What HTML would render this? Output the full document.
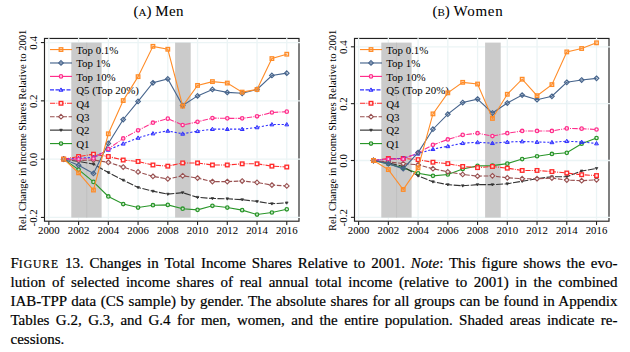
<!DOCTYPE html>
<html><head><meta charset="utf-8"><style>
html,body{margin:0;padding:0;background:#fff;}
body{width:630px;height:352px;position:relative;overflow:hidden;font-family:"Liberation Serif",serif;color:#000;}
.cl{-webkit-text-stroke:0.2px #000;}
.t{-webkit-text-stroke:0.05px #000;}
.t{position:absolute;top:0;font-size:15px;line-height:17px;white-space:nowrap;}
.t .s{font-size:11px;}
.cl{position:absolute;left:10.5px;width:607px;font-size:15px;line-height:17px;height:17px;white-space:nowrap;text-align:justify;text-align-last:justify;}
.cl.last{text-align:left;text-align-last:left;}
.sc{font-size:11.6px;letter-spacing:0.95px;}
</style></head><body>
<svg width="630" height="245" viewBox="0 0 630 245" style="position:absolute;left:0;top:0" font-family="Liberation Serif, serif" fill="#000" stroke-linejoin="miter">
<rect x="44.5" y="38.45" width="254.50" height="182.75" fill="none" stroke="#222222" stroke-width="1.15"/>
<line x1="48.85" y1="37.6" x2="48.85" y2="219.6" stroke="#ebf4f5" stroke-width="1.3"/>
<line x1="78.59" y1="37.6" x2="78.59" y2="219.6" stroke="#ebf4f5" stroke-width="1.3"/>
<line x1="108.33" y1="37.6" x2="108.33" y2="219.6" stroke="#ebf4f5" stroke-width="1.3"/>
<line x1="138.07" y1="37.6" x2="138.07" y2="219.6" stroke="#ebf4f5" stroke-width="1.3"/>
<line x1="167.81" y1="37.6" x2="167.81" y2="219.6" stroke="#ebf4f5" stroke-width="1.3"/>
<line x1="197.55" y1="37.6" x2="197.55" y2="219.6" stroke="#ebf4f5" stroke-width="1.3"/>
<line x1="227.29" y1="37.6" x2="227.29" y2="219.6" stroke="#ebf4f5" stroke-width="1.3"/>
<line x1="257.03" y1="37.6" x2="257.03" y2="219.6" stroke="#ebf4f5" stroke-width="1.3"/>
<line x1="286.77" y1="37.6" x2="286.77" y2="219.6" stroke="#ebf4f5" stroke-width="1.3"/>
<line x1="45.20" y1="217.45" x2="300.00" y2="217.45" stroke="#ebf4f5" stroke-width="1.3"/>
<line x1="45.20" y1="159.15" x2="300.00" y2="159.15" stroke="#ebf4f5" stroke-width="1.3"/>
<line x1="45.20" y1="100.85" x2="300.00" y2="100.85" stroke="#ebf4f5" stroke-width="1.3"/>
<line x1="45.20" y1="42.55" x2="300.00" y2="42.55" stroke="#ebf4f5" stroke-width="1.3"/>
<rect x="71.30" y="42.60" width="30.3" height="175.00" fill="#cbcbcb"/>
<line x1="86.77" y1="42.60" x2="86.77" y2="217.60" stroke="#bdbdbd" stroke-width="0.7"/>
<rect x="175.10" y="42.60" width="15.6" height="175.00" fill="#cbcbcb"/>
<line x1="48.85" y1="221.2" x2="48.85" y2="225.00" stroke="#222222" stroke-width="1.1"/>
<text x="48.85" y="234.4" text-anchor="middle" font-size="10.8">2000</text>
<line x1="78.59" y1="221.2" x2="78.59" y2="225.00" stroke="#222222" stroke-width="1.1"/>
<text x="78.59" y="234.4" text-anchor="middle" font-size="10.8">2002</text>
<line x1="108.33" y1="221.2" x2="108.33" y2="225.00" stroke="#222222" stroke-width="1.1"/>
<text x="108.33" y="234.4" text-anchor="middle" font-size="10.8">2004</text>
<line x1="138.07" y1="221.2" x2="138.07" y2="225.00" stroke="#222222" stroke-width="1.1"/>
<text x="138.07" y="234.4" text-anchor="middle" font-size="10.8">2006</text>
<line x1="167.81" y1="221.2" x2="167.81" y2="225.00" stroke="#222222" stroke-width="1.1"/>
<text x="167.81" y="234.4" text-anchor="middle" font-size="10.8">2008</text>
<line x1="197.55" y1="221.2" x2="197.55" y2="225.00" stroke="#222222" stroke-width="1.1"/>
<text x="197.55" y="234.4" text-anchor="middle" font-size="10.8">2010</text>
<line x1="227.29" y1="221.2" x2="227.29" y2="225.00" stroke="#222222" stroke-width="1.1"/>
<text x="227.29" y="234.4" text-anchor="middle" font-size="10.8">2012</text>
<line x1="257.03" y1="221.2" x2="257.03" y2="225.00" stroke="#222222" stroke-width="1.1"/>
<text x="257.03" y="234.4" text-anchor="middle" font-size="10.8">2014</text>
<line x1="286.77" y1="221.2" x2="286.77" y2="225.00" stroke="#222222" stroke-width="1.1"/>
<text x="286.77" y="234.4" text-anchor="middle" font-size="10.8">2016</text>
<line x1="40.90" y1="217.45" x2="44.5" y2="217.45" stroke="#222222" stroke-width="1.1"/>
<text transform="translate(36.80,217.85) rotate(-90)" text-anchor="middle" font-size="10.9">-0.2</text>
<line x1="40.90" y1="159.15" x2="44.5" y2="159.15" stroke="#222222" stroke-width="1.1"/>
<text transform="translate(36.80,159.55) rotate(-90)" text-anchor="middle" font-size="10.9">0.0</text>
<line x1="40.90" y1="100.85" x2="44.5" y2="100.85" stroke="#222222" stroke-width="1.1"/>
<text transform="translate(36.80,101.25) rotate(-90)" text-anchor="middle" font-size="10.9">0.2</text>
<line x1="40.90" y1="42.55" x2="44.5" y2="42.55" stroke="#222222" stroke-width="1.1"/>
<text transform="translate(36.80,42.95) rotate(-90)" text-anchor="middle" font-size="10.9">0.4</text>
<text transform="translate(25.60,130.35) rotate(-90)" text-anchor="middle" font-size="10.62">Rel. Change in Income Shares Relative to 2001</text>
<line x1="50" y1="49.55" x2="72" y2="49.55" stroke="#ff8c28" stroke-width="1.15"/>
<rect x="59.20" y="47.75" width="3.6" height="3.6" fill="#ff8c28" fill-opacity="0.25" stroke="#ff8c28" stroke-width="1.25"/>
<text x="76.2" y="53.85" font-size="10.9">Top 0.1%</text>
<line x1="50" y1="62.98" x2="72" y2="62.98" stroke="#46648c" stroke-width="1.15"/>
<path d="M61.00 60.63L63.35 62.98L61.00 65.33L58.65 62.98Z" fill="#46648c" fill-opacity="0.2" stroke="#46648c" stroke-width="1.1"/>
<text x="76.2" y="67.28" font-size="10.9">Top 1%</text>
<line x1="50" y1="76.41" x2="72" y2="76.41" stroke="#ff2f8c" stroke-width="1.15"/>
<circle cx="61.00" cy="76.41" r="1.7" fill="#fff" fill-opacity="0.7" stroke="#ff2f8c" stroke-width="1.3"/>
<text x="76.2" y="80.71" font-size="10.9">Top 10%</text>
<line x1="50" y1="89.84" x2="72" y2="89.84" stroke="#3030ff" stroke-width="1.15" stroke-dasharray="4 1.5"/>
<path d="M61.00 87.90L62.94 91.23L59.06 91.23Z" fill="#3030ff" fill-opacity="0.35" stroke="#3030ff" stroke-width="1.0"/>
<text x="76.2" y="94.14" font-size="10.9">Q5 (Top 20%)</text>
<line x1="50" y1="103.27" x2="72" y2="103.27" stroke="#ff2a2a" stroke-width="1.15" stroke-dasharray="5.2 1.15 1 1.15"/>
<rect x="59.20" y="101.47" width="3.6" height="3.6" fill="#fff" fill-opacity="0.8" stroke="#ff2a2a" stroke-width="1.35"/>
<text x="76.2" y="107.57" font-size="10.9">Q4</text>
<line x1="50" y1="116.70" x2="72" y2="116.70" stroke="#985050" stroke-width="1.15" stroke-dasharray="4.6 1.6"/>
<path d="M61.00 114.35L63.35 116.70L61.00 119.05L58.65 116.70Z" fill="#fff" fill-opacity="0.8" stroke="#985050" stroke-width="1.1"/>
<text x="76.2" y="121.00" font-size="10.9">Q3</text>
<line x1="50" y1="130.13" x2="72" y2="130.13" stroke="#333333" stroke-width="1.15"/>
<path d="M59.65 129.19L62.35 129.19L61.00 131.48Z" fill="#333333" stroke="#333333" stroke-width="0.7"/>
<text x="76.2" y="134.43" font-size="10.9">Q2</text>
<line x1="50" y1="143.56" x2="72" y2="143.56" stroke="#2a962a" stroke-width="1.15"/>
<circle cx="61.00" cy="143.56" r="1.7" fill="#fff" fill-opacity="0.7" stroke="#2a962a" stroke-width="1.3"/>
<text x="76.2" y="147.86" font-size="10.9">Q1</text>
<polyline points="63.72,159.15 78.59,169.64 93.46,181.89 108.33,196.46 123.20,204.04 138.07,207.54 152.94,205.21 167.81,204.92 182.68,208.71 197.55,209.87 212.42,205.79 227.29,207.54 242.16,210.16 257.03,214.53 271.90,212.49 286.77,209.29" fill="none" stroke="#2a962a" stroke-width="1.1"/>
<circle cx="63.72" cy="159.15" r="1.7" fill="#fff" fill-opacity="0.7" stroke="#2a962a" stroke-width="1.3"/>
<circle cx="78.59" cy="169.64" r="1.7" fill="#fff" fill-opacity="0.7" stroke="#2a962a" stroke-width="1.3"/>
<circle cx="93.46" cy="181.89" r="1.7" fill="#fff" fill-opacity="0.7" stroke="#2a962a" stroke-width="1.3"/>
<circle cx="108.33" cy="196.46" r="1.7" fill="#fff" fill-opacity="0.7" stroke="#2a962a" stroke-width="1.3"/>
<circle cx="123.20" cy="204.04" r="1.7" fill="#fff" fill-opacity="0.7" stroke="#2a962a" stroke-width="1.3"/>
<circle cx="138.07" cy="207.54" r="1.7" fill="#fff" fill-opacity="0.7" stroke="#2a962a" stroke-width="1.3"/>
<circle cx="152.94" cy="205.21" r="1.7" fill="#fff" fill-opacity="0.7" stroke="#2a962a" stroke-width="1.3"/>
<circle cx="167.81" cy="204.92" r="1.7" fill="#fff" fill-opacity="0.7" stroke="#2a962a" stroke-width="1.3"/>
<circle cx="182.68" cy="208.71" r="1.7" fill="#fff" fill-opacity="0.7" stroke="#2a962a" stroke-width="1.3"/>
<circle cx="197.55" cy="209.87" r="1.7" fill="#fff" fill-opacity="0.7" stroke="#2a962a" stroke-width="1.3"/>
<circle cx="212.42" cy="205.79" r="1.7" fill="#fff" fill-opacity="0.7" stroke="#2a962a" stroke-width="1.3"/>
<circle cx="227.29" cy="207.54" r="1.7" fill="#fff" fill-opacity="0.7" stroke="#2a962a" stroke-width="1.3"/>
<circle cx="242.16" cy="210.16" r="1.7" fill="#fff" fill-opacity="0.7" stroke="#2a962a" stroke-width="1.3"/>
<circle cx="257.03" cy="214.53" r="1.7" fill="#fff" fill-opacity="0.7" stroke="#2a962a" stroke-width="1.3"/>
<circle cx="271.90" cy="212.49" r="1.7" fill="#fff" fill-opacity="0.7" stroke="#2a962a" stroke-width="1.3"/>
<circle cx="286.77" cy="209.29" r="1.7" fill="#fff" fill-opacity="0.7" stroke="#2a962a" stroke-width="1.3"/>
<polyline points="63.72,159.15 78.59,161.48 93.46,164.11 108.33,172.56 123.20,180.14 138.07,187.43 152.94,191.22 167.81,194.13 182.68,192.67 197.55,197.34 212.42,198.50 227.29,198.79 242.16,199.67 257.03,201.42 271.90,203.75 286.77,202.88" fill="none" stroke="#333333" stroke-width="1.1" stroke-dasharray="7 1.5"/>
<path d="M62.37 158.21L65.07 158.21L63.72 160.50Z" fill="#333333" stroke="#333333" stroke-width="0.7"/>
<path d="M77.24 160.54L79.94 160.54L78.59 162.83Z" fill="#333333" stroke="#333333" stroke-width="0.7"/>
<path d="M92.11 163.16L94.81 163.16L93.46 165.46Z" fill="#333333" stroke="#333333" stroke-width="0.7"/>
<path d="M106.98 171.61L109.68 171.61L108.33 173.91Z" fill="#333333" stroke="#333333" stroke-width="0.7"/>
<path d="M121.85 179.19L124.55 179.19L123.20 181.49Z" fill="#333333" stroke="#333333" stroke-width="0.7"/>
<path d="M136.72 186.48L139.42 186.48L138.07 188.78Z" fill="#333333" stroke="#333333" stroke-width="0.7"/>
<path d="M151.59 190.27L154.29 190.27L152.94 192.56Z" fill="#333333" stroke="#333333" stroke-width="0.7"/>
<path d="M166.46 193.19L169.16 193.19L167.81 195.48Z" fill="#333333" stroke="#333333" stroke-width="0.7"/>
<path d="M181.33 191.73L184.03 191.73L182.68 194.02Z" fill="#333333" stroke="#333333" stroke-width="0.7"/>
<path d="M196.20 196.39L198.90 196.39L197.55 198.69Z" fill="#333333" stroke="#333333" stroke-width="0.7"/>
<path d="M211.07 197.56L213.77 197.56L212.42 199.85Z" fill="#333333" stroke="#333333" stroke-width="0.7"/>
<path d="M225.94 197.85L228.64 197.85L227.29 200.14Z" fill="#333333" stroke="#333333" stroke-width="0.7"/>
<path d="M240.81 198.72L243.51 198.72L242.16 201.02Z" fill="#333333" stroke="#333333" stroke-width="0.7"/>
<path d="M255.68 200.47L258.38 200.47L257.03 202.77Z" fill="#333333" stroke="#333333" stroke-width="0.7"/>
<path d="M270.55 202.80L273.25 202.80L271.90 205.10Z" fill="#333333" stroke="#333333" stroke-width="0.7"/>
<path d="M285.42 201.93L288.12 201.93L286.77 204.22Z" fill="#333333" stroke="#333333" stroke-width="0.7"/>
<polyline points="63.72,159.15 78.59,160.61 93.46,160.02 108.33,162.36 123.20,167.02 138.07,171.98 152.94,176.35 167.81,178.97 182.68,175.77 197.55,178.10 212.42,181.60 227.29,181.60 242.16,181.01 257.03,182.47 271.90,185.09 286.77,185.97" fill="none" stroke="#985050" stroke-width="1.1" stroke-dasharray="4.6 1.6"/>
<path d="M63.72 156.80L66.07 159.15L63.72 161.50L61.37 159.15Z" fill="#fff" fill-opacity="0.8" stroke="#985050" stroke-width="1.1"/>
<path d="M78.59 158.26L80.94 160.61L78.59 162.96L76.24 160.61Z" fill="#fff" fill-opacity="0.8" stroke="#985050" stroke-width="1.1"/>
<path d="M93.46 157.67L95.81 160.02L93.46 162.37L91.11 160.02Z" fill="#fff" fill-opacity="0.8" stroke="#985050" stroke-width="1.1"/>
<path d="M108.33 160.01L110.68 162.36L108.33 164.71L105.98 162.36Z" fill="#fff" fill-opacity="0.8" stroke="#985050" stroke-width="1.1"/>
<path d="M123.20 164.67L125.55 167.02L123.20 169.37L120.85 167.02Z" fill="#fff" fill-opacity="0.8" stroke="#985050" stroke-width="1.1"/>
<path d="M138.07 169.63L140.42 171.98L138.07 174.33L135.72 171.98Z" fill="#fff" fill-opacity="0.8" stroke="#985050" stroke-width="1.1"/>
<path d="M152.94 174.00L155.29 176.35L152.94 178.70L150.59 176.35Z" fill="#fff" fill-opacity="0.8" stroke="#985050" stroke-width="1.1"/>
<path d="M167.81 176.62L170.16 178.97L167.81 181.32L165.46 178.97Z" fill="#fff" fill-opacity="0.8" stroke="#985050" stroke-width="1.1"/>
<path d="M182.68 173.42L185.03 175.77L182.68 178.12L180.33 175.77Z" fill="#fff" fill-opacity="0.8" stroke="#985050" stroke-width="1.1"/>
<path d="M197.55 175.75L199.90 178.10L197.55 180.45L195.20 178.10Z" fill="#fff" fill-opacity="0.8" stroke="#985050" stroke-width="1.1"/>
<path d="M212.42 179.25L214.77 181.60L212.42 183.95L210.07 181.60Z" fill="#fff" fill-opacity="0.8" stroke="#985050" stroke-width="1.1"/>
<path d="M227.29 179.25L229.64 181.60L227.29 183.95L224.94 181.60Z" fill="#fff" fill-opacity="0.8" stroke="#985050" stroke-width="1.1"/>
<path d="M242.16 178.66L244.51 181.01L242.16 183.36L239.81 181.01Z" fill="#fff" fill-opacity="0.8" stroke="#985050" stroke-width="1.1"/>
<path d="M257.03 180.12L259.38 182.47L257.03 184.82L254.68 182.47Z" fill="#fff" fill-opacity="0.8" stroke="#985050" stroke-width="1.1"/>
<path d="M271.90 182.74L274.25 185.09L271.90 187.44L269.55 185.09Z" fill="#fff" fill-opacity="0.8" stroke="#985050" stroke-width="1.1"/>
<path d="M286.77 183.62L289.12 185.97L286.77 188.32L284.42 185.97Z" fill="#fff" fill-opacity="0.8" stroke="#985050" stroke-width="1.1"/>
<polyline points="63.72,159.15 78.59,156.53 93.46,154.19 108.33,156.53 123.20,160.02 138.07,161.48 152.94,164.98 167.81,166.15 182.68,162.94 197.55,162.94 212.42,164.98 227.29,164.98 242.16,163.81 257.03,163.81 271.90,166.15 286.77,167.02" fill="none" stroke="#ff2a2a" stroke-width="1.1" stroke-dasharray="5.2 1.15 1 1.15"/>
<rect x="61.92" y="157.35" width="3.6" height="3.6" fill="#fff" fill-opacity="0.8" stroke="#ff2a2a" stroke-width="1.35"/>
<rect x="76.79" y="154.73" width="3.6" height="3.6" fill="#fff" fill-opacity="0.8" stroke="#ff2a2a" stroke-width="1.35"/>
<rect x="91.66" y="152.39" width="3.6" height="3.6" fill="#fff" fill-opacity="0.8" stroke="#ff2a2a" stroke-width="1.35"/>
<rect x="106.53" y="154.73" width="3.6" height="3.6" fill="#fff" fill-opacity="0.8" stroke="#ff2a2a" stroke-width="1.35"/>
<rect x="121.40" y="158.22" width="3.6" height="3.6" fill="#fff" fill-opacity="0.8" stroke="#ff2a2a" stroke-width="1.35"/>
<rect x="136.27" y="159.68" width="3.6" height="3.6" fill="#fff" fill-opacity="0.8" stroke="#ff2a2a" stroke-width="1.35"/>
<rect x="151.14" y="163.18" width="3.6" height="3.6" fill="#fff" fill-opacity="0.8" stroke="#ff2a2a" stroke-width="1.35"/>
<rect x="166.01" y="164.35" width="3.6" height="3.6" fill="#fff" fill-opacity="0.8" stroke="#ff2a2a" stroke-width="1.35"/>
<rect x="180.88" y="161.14" width="3.6" height="3.6" fill="#fff" fill-opacity="0.8" stroke="#ff2a2a" stroke-width="1.35"/>
<rect x="195.75" y="161.14" width="3.6" height="3.6" fill="#fff" fill-opacity="0.8" stroke="#ff2a2a" stroke-width="1.35"/>
<rect x="210.62" y="163.18" width="3.6" height="3.6" fill="#fff" fill-opacity="0.8" stroke="#ff2a2a" stroke-width="1.35"/>
<rect x="225.49" y="163.18" width="3.6" height="3.6" fill="#fff" fill-opacity="0.8" stroke="#ff2a2a" stroke-width="1.35"/>
<rect x="240.36" y="162.01" width="3.6" height="3.6" fill="#fff" fill-opacity="0.8" stroke="#ff2a2a" stroke-width="1.35"/>
<rect x="255.23" y="162.01" width="3.6" height="3.6" fill="#fff" fill-opacity="0.8" stroke="#ff2a2a" stroke-width="1.35"/>
<rect x="270.10" y="164.35" width="3.6" height="3.6" fill="#fff" fill-opacity="0.8" stroke="#ff2a2a" stroke-width="1.35"/>
<rect x="284.97" y="165.22" width="3.6" height="3.6" fill="#fff" fill-opacity="0.8" stroke="#ff2a2a" stroke-width="1.35"/>
<polyline points="63.72,159.15 78.59,158.28 93.46,157.40 108.33,149.82 123.20,143.70 138.07,137.87 152.94,133.50 167.81,130.87 182.68,133.79 197.55,131.17 212.42,129.13 227.29,129.13 242.16,129.13 257.03,127.38 271.90,124.46 286.77,124.46" fill="none" stroke="#3030ff" stroke-width="1.1" stroke-dasharray="2.2 1.8"/>
<path d="M63.72 157.21L65.66 160.54L61.78 160.54Z" fill="#3030ff" fill-opacity="0.35" stroke="#3030ff" stroke-width="1.0"/>
<path d="M78.59 156.33L80.53 159.66L76.65 159.66Z" fill="#3030ff" fill-opacity="0.35" stroke="#3030ff" stroke-width="1.0"/>
<path d="M93.46 155.46L95.40 158.79L91.52 158.79Z" fill="#3030ff" fill-opacity="0.35" stroke="#3030ff" stroke-width="1.0"/>
<path d="M108.33 147.88L110.27 151.21L106.39 151.21Z" fill="#3030ff" fill-opacity="0.35" stroke="#3030ff" stroke-width="1.0"/>
<path d="M123.20 141.76L125.14 145.09L121.26 145.09Z" fill="#3030ff" fill-opacity="0.35" stroke="#3030ff" stroke-width="1.0"/>
<path d="M138.07 135.93L140.01 139.26L136.13 139.26Z" fill="#3030ff" fill-opacity="0.35" stroke="#3030ff" stroke-width="1.0"/>
<path d="M152.94 131.56L154.88 134.89L151.00 134.89Z" fill="#3030ff" fill-opacity="0.35" stroke="#3030ff" stroke-width="1.0"/>
<path d="M167.81 128.93L169.75 132.26L165.87 132.26Z" fill="#3030ff" fill-opacity="0.35" stroke="#3030ff" stroke-width="1.0"/>
<path d="M182.68 131.85L184.62 135.18L180.74 135.18Z" fill="#3030ff" fill-opacity="0.35" stroke="#3030ff" stroke-width="1.0"/>
<path d="M197.55 129.22L199.49 132.55L195.61 132.55Z" fill="#3030ff" fill-opacity="0.35" stroke="#3030ff" stroke-width="1.0"/>
<path d="M212.42 127.18L214.36 130.51L210.48 130.51Z" fill="#3030ff" fill-opacity="0.35" stroke="#3030ff" stroke-width="1.0"/>
<path d="M227.29 127.18L229.23 130.51L225.35 130.51Z" fill="#3030ff" fill-opacity="0.35" stroke="#3030ff" stroke-width="1.0"/>
<path d="M242.16 127.18L244.10 130.51L240.22 130.51Z" fill="#3030ff" fill-opacity="0.35" stroke="#3030ff" stroke-width="1.0"/>
<path d="M257.03 125.43L258.97 128.76L255.09 128.76Z" fill="#3030ff" fill-opacity="0.35" stroke="#3030ff" stroke-width="1.0"/>
<path d="M271.90 122.52L273.84 125.85L269.96 125.85Z" fill="#3030ff" fill-opacity="0.35" stroke="#3030ff" stroke-width="1.0"/>
<path d="M286.77 122.52L288.71 125.85L284.83 125.85Z" fill="#3030ff" fill-opacity="0.35" stroke="#3030ff" stroke-width="1.0"/>
<polyline points="63.72,159.15 78.59,159.15 93.46,158.57 108.33,148.95 123.20,138.45 138.07,130.29 152.94,122.71 167.81,118.63 182.68,125.04 197.55,121.84 212.42,118.05 227.29,118.34 242.16,118.34 257.03,116.30 271.90,112.51 286.77,111.64" fill="none" stroke="#ff2f8c" stroke-width="1.1" stroke-dasharray="5.5 1.2 1 1.2"/>
<circle cx="63.72" cy="159.15" r="1.7" fill="#fff" fill-opacity="0.7" stroke="#ff2f8c" stroke-width="1.3"/>
<circle cx="78.59" cy="159.15" r="1.7" fill="#fff" fill-opacity="0.7" stroke="#ff2f8c" stroke-width="1.3"/>
<circle cx="93.46" cy="158.57" r="1.7" fill="#fff" fill-opacity="0.7" stroke="#ff2f8c" stroke-width="1.3"/>
<circle cx="108.33" cy="148.95" r="1.7" fill="#fff" fill-opacity="0.7" stroke="#ff2f8c" stroke-width="1.3"/>
<circle cx="123.20" cy="138.45" r="1.7" fill="#fff" fill-opacity="0.7" stroke="#ff2f8c" stroke-width="1.3"/>
<circle cx="138.07" cy="130.29" r="1.7" fill="#fff" fill-opacity="0.7" stroke="#ff2f8c" stroke-width="1.3"/>
<circle cx="152.94" cy="122.71" r="1.7" fill="#fff" fill-opacity="0.7" stroke="#ff2f8c" stroke-width="1.3"/>
<circle cx="167.81" cy="118.63" r="1.7" fill="#fff" fill-opacity="0.7" stroke="#ff2f8c" stroke-width="1.3"/>
<circle cx="182.68" cy="125.04" r="1.7" fill="#fff" fill-opacity="0.7" stroke="#ff2f8c" stroke-width="1.3"/>
<circle cx="197.55" cy="121.84" r="1.7" fill="#fff" fill-opacity="0.7" stroke="#ff2f8c" stroke-width="1.3"/>
<circle cx="212.42" cy="118.05" r="1.7" fill="#fff" fill-opacity="0.7" stroke="#ff2f8c" stroke-width="1.3"/>
<circle cx="227.29" cy="118.34" r="1.7" fill="#fff" fill-opacity="0.7" stroke="#ff2f8c" stroke-width="1.3"/>
<circle cx="242.16" cy="118.34" r="1.7" fill="#fff" fill-opacity="0.7" stroke="#ff2f8c" stroke-width="1.3"/>
<circle cx="257.03" cy="116.30" r="1.7" fill="#fff" fill-opacity="0.7" stroke="#ff2f8c" stroke-width="1.3"/>
<circle cx="271.90" cy="112.51" r="1.7" fill="#fff" fill-opacity="0.7" stroke="#ff2f8c" stroke-width="1.3"/>
<circle cx="286.77" cy="111.64" r="1.7" fill="#fff" fill-opacity="0.7" stroke="#ff2f8c" stroke-width="1.3"/>
<polyline points="63.72,159.15 78.59,165.27 93.46,173.43 108.33,143.41 123.20,119.51 138.07,101.43 152.94,82.78 167.81,78.99 182.68,105.51 197.55,95.89 212.42,89.48 227.29,92.40 242.16,93.27 257.03,89.48 271.90,75.49 286.77,73.16" fill="none" stroke="#46648c" stroke-width="1.1"/>
<path d="M63.72 156.80L66.07 159.15L63.72 161.50L61.37 159.15Z" fill="#46648c" fill-opacity="0.2" stroke="#46648c" stroke-width="1.1"/>
<path d="M78.59 162.92L80.94 165.27L78.59 167.62L76.24 165.27Z" fill="#46648c" fill-opacity="0.2" stroke="#46648c" stroke-width="1.1"/>
<path d="M93.46 171.08L95.81 173.43L93.46 175.78L91.11 173.43Z" fill="#46648c" fill-opacity="0.2" stroke="#46648c" stroke-width="1.1"/>
<path d="M108.33 141.06L110.68 143.41L108.33 145.76L105.98 143.41Z" fill="#46648c" fill-opacity="0.2" stroke="#46648c" stroke-width="1.1"/>
<path d="M123.20 117.16L125.55 119.51L123.20 121.86L120.85 119.51Z" fill="#46648c" fill-opacity="0.2" stroke="#46648c" stroke-width="1.1"/>
<path d="M138.07 99.08L140.42 101.43L138.07 103.78L135.72 101.43Z" fill="#46648c" fill-opacity="0.2" stroke="#46648c" stroke-width="1.1"/>
<path d="M152.94 80.43L155.29 82.78L152.94 85.13L150.59 82.78Z" fill="#46648c" fill-opacity="0.2" stroke="#46648c" stroke-width="1.1"/>
<path d="M167.81 76.64L170.16 78.99L167.81 81.34L165.46 78.99Z" fill="#46648c" fill-opacity="0.2" stroke="#46648c" stroke-width="1.1"/>
<path d="M182.68 103.16L185.03 105.51L182.68 107.86L180.33 105.51Z" fill="#46648c" fill-opacity="0.2" stroke="#46648c" stroke-width="1.1"/>
<path d="M197.55 93.54L199.90 95.89L197.55 98.24L195.20 95.89Z" fill="#46648c" fill-opacity="0.2" stroke="#46648c" stroke-width="1.1"/>
<path d="M212.42 87.13L214.77 89.48L212.42 91.83L210.07 89.48Z" fill="#46648c" fill-opacity="0.2" stroke="#46648c" stroke-width="1.1"/>
<path d="M227.29 90.05L229.64 92.40L227.29 94.75L224.94 92.40Z" fill="#46648c" fill-opacity="0.2" stroke="#46648c" stroke-width="1.1"/>
<path d="M242.16 90.92L244.51 93.27L242.16 95.62L239.81 93.27Z" fill="#46648c" fill-opacity="0.2" stroke="#46648c" stroke-width="1.1"/>
<path d="M257.03 87.13L259.38 89.48L257.03 91.83L254.68 89.48Z" fill="#46648c" fill-opacity="0.2" stroke="#46648c" stroke-width="1.1"/>
<path d="M271.90 73.14L274.25 75.49L271.90 77.84L269.55 75.49Z" fill="#46648c" fill-opacity="0.2" stroke="#46648c" stroke-width="1.1"/>
<path d="M286.77 70.81L289.12 73.16L286.77 75.51L284.42 73.16Z" fill="#46648c" fill-opacity="0.2" stroke="#46648c" stroke-width="1.1"/>
<polyline points="63.72,159.15 78.59,172.85 93.46,190.05 108.33,133.79 123.20,100.56 138.07,76.66 152.94,46.34 167.81,49.25 182.68,106.10 197.55,85.40 212.42,81.61 227.29,83.07 242.16,92.11 257.03,89.48 271.90,58.58 286.77,54.21" fill="none" stroke="#ff8c28" stroke-width="1.1"/>
<rect x="61.92" y="157.35" width="3.6" height="3.6" fill="#ff8c28" fill-opacity="0.25" stroke="#ff8c28" stroke-width="1.25"/>
<rect x="76.79" y="171.05" width="3.6" height="3.6" fill="#ff8c28" fill-opacity="0.25" stroke="#ff8c28" stroke-width="1.25"/>
<rect x="91.66" y="188.25" width="3.6" height="3.6" fill="#ff8c28" fill-opacity="0.25" stroke="#ff8c28" stroke-width="1.25"/>
<rect x="106.53" y="131.99" width="3.6" height="3.6" fill="#ff8c28" fill-opacity="0.25" stroke="#ff8c28" stroke-width="1.25"/>
<rect x="121.40" y="98.76" width="3.6" height="3.6" fill="#ff8c28" fill-opacity="0.25" stroke="#ff8c28" stroke-width="1.25"/>
<rect x="136.27" y="74.86" width="3.6" height="3.6" fill="#ff8c28" fill-opacity="0.25" stroke="#ff8c28" stroke-width="1.25"/>
<rect x="151.14" y="44.54" width="3.6" height="3.6" fill="#ff8c28" fill-opacity="0.25" stroke="#ff8c28" stroke-width="1.25"/>
<rect x="166.01" y="47.45" width="3.6" height="3.6" fill="#ff8c28" fill-opacity="0.25" stroke="#ff8c28" stroke-width="1.25"/>
<rect x="180.88" y="104.30" width="3.6" height="3.6" fill="#ff8c28" fill-opacity="0.25" stroke="#ff8c28" stroke-width="1.25"/>
<rect x="195.75" y="83.60" width="3.6" height="3.6" fill="#ff8c28" fill-opacity="0.25" stroke="#ff8c28" stroke-width="1.25"/>
<rect x="210.62" y="79.81" width="3.6" height="3.6" fill="#ff8c28" fill-opacity="0.25" stroke="#ff8c28" stroke-width="1.25"/>
<rect x="225.49" y="81.27" width="3.6" height="3.6" fill="#ff8c28" fill-opacity="0.25" stroke="#ff8c28" stroke-width="1.25"/>
<rect x="240.36" y="90.31" width="3.6" height="3.6" fill="#ff8c28" fill-opacity="0.25" stroke="#ff8c28" stroke-width="1.25"/>
<rect x="255.23" y="87.68" width="3.6" height="3.6" fill="#ff8c28" fill-opacity="0.25" stroke="#ff8c28" stroke-width="1.25"/>
<rect x="270.10" y="56.78" width="3.6" height="3.6" fill="#ff8c28" fill-opacity="0.25" stroke="#ff8c28" stroke-width="1.25"/>
<rect x="284.97" y="52.41" width="3.6" height="3.6" fill="#ff8c28" fill-opacity="0.25" stroke="#ff8c28" stroke-width="1.25"/>
<rect x="354.5" y="38.45" width="254.50" height="182.75" fill="none" stroke="#222222" stroke-width="1.15"/>
<line x1="358.60" y1="37.6" x2="358.60" y2="219.6" stroke="#ebf4f5" stroke-width="1.3"/>
<line x1="388.34" y1="37.6" x2="388.34" y2="219.6" stroke="#ebf4f5" stroke-width="1.3"/>
<line x1="418.08" y1="37.6" x2="418.08" y2="219.6" stroke="#ebf4f5" stroke-width="1.3"/>
<line x1="447.82" y1="37.6" x2="447.82" y2="219.6" stroke="#ebf4f5" stroke-width="1.3"/>
<line x1="477.56" y1="37.6" x2="477.56" y2="219.6" stroke="#ebf4f5" stroke-width="1.3"/>
<line x1="507.30" y1="37.6" x2="507.30" y2="219.6" stroke="#ebf4f5" stroke-width="1.3"/>
<line x1="537.04" y1="37.6" x2="537.04" y2="219.6" stroke="#ebf4f5" stroke-width="1.3"/>
<line x1="566.78" y1="37.6" x2="566.78" y2="219.6" stroke="#ebf4f5" stroke-width="1.3"/>
<line x1="596.52" y1="37.6" x2="596.52" y2="219.6" stroke="#ebf4f5" stroke-width="1.3"/>
<line x1="355.20" y1="217.35" x2="610.00" y2="217.35" stroke="#ebf4f5" stroke-width="1.3"/>
<line x1="355.20" y1="160.50" x2="610.00" y2="160.50" stroke="#ebf4f5" stroke-width="1.3"/>
<line x1="355.20" y1="103.65" x2="610.00" y2="103.65" stroke="#ebf4f5" stroke-width="1.3"/>
<line x1="355.20" y1="46.80" x2="610.00" y2="46.80" stroke="#ebf4f5" stroke-width="1.3"/>
<rect x="381.30" y="42.60" width="30.3" height="175.00" fill="#cbcbcb"/>
<line x1="396.52" y1="42.60" x2="396.52" y2="217.60" stroke="#bdbdbd" stroke-width="0.7"/>
<rect x="485.10" y="42.60" width="15.6" height="175.00" fill="#cbcbcb"/>
<line x1="358.60" y1="221.2" x2="358.60" y2="225.00" stroke="#222222" stroke-width="1.1"/>
<text x="358.60" y="234.4" text-anchor="middle" font-size="10.8">2000</text>
<line x1="388.34" y1="221.2" x2="388.34" y2="225.00" stroke="#222222" stroke-width="1.1"/>
<text x="388.34" y="234.4" text-anchor="middle" font-size="10.8">2002</text>
<line x1="418.08" y1="221.2" x2="418.08" y2="225.00" stroke="#222222" stroke-width="1.1"/>
<text x="418.08" y="234.4" text-anchor="middle" font-size="10.8">2004</text>
<line x1="447.82" y1="221.2" x2="447.82" y2="225.00" stroke="#222222" stroke-width="1.1"/>
<text x="447.82" y="234.4" text-anchor="middle" font-size="10.8">2006</text>
<line x1="477.56" y1="221.2" x2="477.56" y2="225.00" stroke="#222222" stroke-width="1.1"/>
<text x="477.56" y="234.4" text-anchor="middle" font-size="10.8">2008</text>
<line x1="507.30" y1="221.2" x2="507.30" y2="225.00" stroke="#222222" stroke-width="1.1"/>
<text x="507.30" y="234.4" text-anchor="middle" font-size="10.8">2010</text>
<line x1="537.04" y1="221.2" x2="537.04" y2="225.00" stroke="#222222" stroke-width="1.1"/>
<text x="537.04" y="234.4" text-anchor="middle" font-size="10.8">2012</text>
<line x1="566.78" y1="221.2" x2="566.78" y2="225.00" stroke="#222222" stroke-width="1.1"/>
<text x="566.78" y="234.4" text-anchor="middle" font-size="10.8">2014</text>
<line x1="596.52" y1="221.2" x2="596.52" y2="225.00" stroke="#222222" stroke-width="1.1"/>
<text x="596.52" y="234.4" text-anchor="middle" font-size="10.8">2016</text>
<line x1="350.90" y1="217.35" x2="354.5" y2="217.35" stroke="#222222" stroke-width="1.1"/>
<text transform="translate(346.80,217.75) rotate(-90)" text-anchor="middle" font-size="10.9">-0.2</text>
<line x1="350.90" y1="160.50" x2="354.5" y2="160.50" stroke="#222222" stroke-width="1.1"/>
<text transform="translate(346.80,160.90) rotate(-90)" text-anchor="middle" font-size="10.9">0.0</text>
<line x1="350.90" y1="103.65" x2="354.5" y2="103.65" stroke="#222222" stroke-width="1.1"/>
<text transform="translate(346.80,104.05) rotate(-90)" text-anchor="middle" font-size="10.9">0.2</text>
<line x1="350.90" y1="46.80" x2="354.5" y2="46.80" stroke="#222222" stroke-width="1.1"/>
<text transform="translate(346.80,47.20) rotate(-90)" text-anchor="middle" font-size="10.9">0.4</text>
<text transform="translate(335.60,130.35) rotate(-90)" text-anchor="middle" font-size="10.62">Rel. Change in Income Shares Relative to 2001</text>
<line x1="360" y1="49.55" x2="382" y2="49.55" stroke="#ff8c28" stroke-width="1.15"/>
<rect x="369.20" y="47.75" width="3.6" height="3.6" fill="#ff8c28" fill-opacity="0.25" stroke="#ff8c28" stroke-width="1.25"/>
<text x="386.2" y="53.85" font-size="10.9">Top 0.1%</text>
<line x1="360" y1="62.98" x2="382" y2="62.98" stroke="#46648c" stroke-width="1.15"/>
<path d="M371.00 60.63L373.35 62.98L371.00 65.33L368.65 62.98Z" fill="#46648c" fill-opacity="0.2" stroke="#46648c" stroke-width="1.1"/>
<text x="386.2" y="67.28" font-size="10.9">Top 1%</text>
<line x1="360" y1="76.41" x2="382" y2="76.41" stroke="#ff2f8c" stroke-width="1.15"/>
<circle cx="371.00" cy="76.41" r="1.7" fill="#fff" fill-opacity="0.7" stroke="#ff2f8c" stroke-width="1.3"/>
<text x="386.2" y="80.71" font-size="10.9">Top 10%</text>
<line x1="360" y1="89.84" x2="382" y2="89.84" stroke="#3030ff" stroke-width="1.15" stroke-dasharray="4 1.5"/>
<path d="M371.00 87.90L372.94 91.23L369.06 91.23Z" fill="#3030ff" fill-opacity="0.35" stroke="#3030ff" stroke-width="1.0"/>
<text x="386.2" y="94.14" font-size="10.9">Q5 (Top 20%)</text>
<line x1="360" y1="103.27" x2="382" y2="103.27" stroke="#ff2a2a" stroke-width="1.15" stroke-dasharray="5.2 1.15 1 1.15"/>
<rect x="369.20" y="101.47" width="3.6" height="3.6" fill="#fff" fill-opacity="0.8" stroke="#ff2a2a" stroke-width="1.35"/>
<text x="386.2" y="107.57" font-size="10.9">Q4</text>
<line x1="360" y1="116.70" x2="382" y2="116.70" stroke="#985050" stroke-width="1.15" stroke-dasharray="4.6 1.6"/>
<path d="M371.00 114.35L373.35 116.70L371.00 119.05L368.65 116.70Z" fill="#fff" fill-opacity="0.8" stroke="#985050" stroke-width="1.1"/>
<text x="386.2" y="121.00" font-size="10.9">Q3</text>
<line x1="360" y1="130.13" x2="382" y2="130.13" stroke="#333333" stroke-width="1.15"/>
<path d="M369.65 129.19L372.35 129.19L371.00 131.48Z" fill="#333333" stroke="#333333" stroke-width="0.7"/>
<text x="386.2" y="134.43" font-size="10.9">Q2</text>
<line x1="360" y1="143.56" x2="382" y2="143.56" stroke="#2a962a" stroke-width="1.15"/>
<circle cx="371.00" cy="143.56" r="1.7" fill="#fff" fill-opacity="0.7" stroke="#2a962a" stroke-width="1.3"/>
<text x="386.2" y="147.86" font-size="10.9">Q1</text>
<polyline points="373.47,160.50 388.34,163.91 403.21,167.89 418.08,173.29 432.95,175.85 447.82,174.43 462.69,169.03 477.56,165.90 492.43,165.62 507.30,163.63 522.17,159.08 537.04,156.24 551.91,153.96 566.78,152.83 581.65,143.73 596.52,138.04" fill="none" stroke="#2a962a" stroke-width="1.1"/>
<circle cx="373.47" cy="160.50" r="1.7" fill="#fff" fill-opacity="0.7" stroke="#2a962a" stroke-width="1.3"/>
<circle cx="388.34" cy="163.91" r="1.7" fill="#fff" fill-opacity="0.7" stroke="#2a962a" stroke-width="1.3"/>
<circle cx="403.21" cy="167.89" r="1.7" fill="#fff" fill-opacity="0.7" stroke="#2a962a" stroke-width="1.3"/>
<circle cx="418.08" cy="173.29" r="1.7" fill="#fff" fill-opacity="0.7" stroke="#2a962a" stroke-width="1.3"/>
<circle cx="432.95" cy="175.85" r="1.7" fill="#fff" fill-opacity="0.7" stroke="#2a962a" stroke-width="1.3"/>
<circle cx="447.82" cy="174.43" r="1.7" fill="#fff" fill-opacity="0.7" stroke="#2a962a" stroke-width="1.3"/>
<circle cx="462.69" cy="169.03" r="1.7" fill="#fff" fill-opacity="0.7" stroke="#2a962a" stroke-width="1.3"/>
<circle cx="477.56" cy="165.90" r="1.7" fill="#fff" fill-opacity="0.7" stroke="#2a962a" stroke-width="1.3"/>
<circle cx="492.43" cy="165.62" r="1.7" fill="#fff" fill-opacity="0.7" stroke="#2a962a" stroke-width="1.3"/>
<circle cx="507.30" cy="163.63" r="1.7" fill="#fff" fill-opacity="0.7" stroke="#2a962a" stroke-width="1.3"/>
<circle cx="522.17" cy="159.08" r="1.7" fill="#fff" fill-opacity="0.7" stroke="#2a962a" stroke-width="1.3"/>
<circle cx="537.04" cy="156.24" r="1.7" fill="#fff" fill-opacity="0.7" stroke="#2a962a" stroke-width="1.3"/>
<circle cx="551.91" cy="153.96" r="1.7" fill="#fff" fill-opacity="0.7" stroke="#2a962a" stroke-width="1.3"/>
<circle cx="566.78" cy="152.83" r="1.7" fill="#fff" fill-opacity="0.7" stroke="#2a962a" stroke-width="1.3"/>
<circle cx="581.65" cy="143.73" r="1.7" fill="#fff" fill-opacity="0.7" stroke="#2a962a" stroke-width="1.3"/>
<circle cx="596.52" cy="138.04" r="1.7" fill="#fff" fill-opacity="0.7" stroke="#2a962a" stroke-width="1.3"/>
<polyline points="373.47,160.50 388.34,162.77 403.21,166.47 418.08,175.85 432.95,181.82 447.82,184.66 462.69,185.80 477.56,184.66 492.43,184.66 507.30,183.81 522.17,181.25 537.04,178.69 551.91,176.70 566.78,176.70 581.65,171.02 596.52,168.46" fill="none" stroke="#333333" stroke-width="1.1" stroke-dasharray="7 1.5"/>
<path d="M372.12 159.56L374.82 159.56L373.47 161.85Z" fill="#333333" stroke="#333333" stroke-width="0.7"/>
<path d="M386.99 161.83L389.69 161.83L388.34 164.12Z" fill="#333333" stroke="#333333" stroke-width="0.7"/>
<path d="M401.86 165.52L404.56 165.52L403.21 167.82Z" fill="#333333" stroke="#333333" stroke-width="0.7"/>
<path d="M416.73 174.90L419.43 174.90L418.08 177.20Z" fill="#333333" stroke="#333333" stroke-width="0.7"/>
<path d="M431.60 180.87L434.30 180.87L432.95 183.17Z" fill="#333333" stroke="#333333" stroke-width="0.7"/>
<path d="M446.47 183.72L449.17 183.72L447.82 186.01Z" fill="#333333" stroke="#333333" stroke-width="0.7"/>
<path d="M461.34 184.85L464.04 184.85L462.69 187.15Z" fill="#333333" stroke="#333333" stroke-width="0.7"/>
<path d="M476.21 183.72L478.91 183.72L477.56 186.01Z" fill="#333333" stroke="#333333" stroke-width="0.7"/>
<path d="M491.08 183.72L493.78 183.72L492.43 186.01Z" fill="#333333" stroke="#333333" stroke-width="0.7"/>
<path d="M505.95 182.86L508.65 182.86L507.30 185.16Z" fill="#333333" stroke="#333333" stroke-width="0.7"/>
<path d="M520.82 180.31L523.52 180.31L522.17 182.60Z" fill="#333333" stroke="#333333" stroke-width="0.7"/>
<path d="M535.69 177.75L538.39 177.75L537.04 180.04Z" fill="#333333" stroke="#333333" stroke-width="0.7"/>
<path d="M550.56 175.76L553.26 175.76L551.91 178.05Z" fill="#333333" stroke="#333333" stroke-width="0.7"/>
<path d="M565.43 175.76L568.13 175.76L566.78 178.05Z" fill="#333333" stroke="#333333" stroke-width="0.7"/>
<path d="M580.30 170.07L583.00 170.07L581.65 172.37Z" fill="#333333" stroke="#333333" stroke-width="0.7"/>
<path d="M595.17 167.51L597.87 167.51L596.52 169.81Z" fill="#333333" stroke="#333333" stroke-width="0.7"/>
<polyline points="373.47,160.50 388.34,161.92 403.21,163.63 418.08,164.76 432.95,168.74 447.82,171.87 462.69,174.43 477.56,176.13 492.43,175.85 507.30,177.84 522.17,178.69 537.04,178.69 551.91,178.12 566.78,180.11 581.65,180.68 596.52,179.83" fill="none" stroke="#985050" stroke-width="1.1" stroke-dasharray="4.6 1.6"/>
<path d="M373.47 158.15L375.82 160.50L373.47 162.85L371.12 160.50Z" fill="#fff" fill-opacity="0.8" stroke="#985050" stroke-width="1.1"/>
<path d="M388.34 159.57L390.69 161.92L388.34 164.27L385.99 161.92Z" fill="#fff" fill-opacity="0.8" stroke="#985050" stroke-width="1.1"/>
<path d="M403.21 161.28L405.56 163.63L403.21 165.98L400.86 163.63Z" fill="#fff" fill-opacity="0.8" stroke="#985050" stroke-width="1.1"/>
<path d="M418.08 162.41L420.43 164.76L418.08 167.11L415.73 164.76Z" fill="#fff" fill-opacity="0.8" stroke="#985050" stroke-width="1.1"/>
<path d="M432.95 166.39L435.30 168.74L432.95 171.09L430.60 168.74Z" fill="#fff" fill-opacity="0.8" stroke="#985050" stroke-width="1.1"/>
<path d="M447.82 169.52L450.17 171.87L447.82 174.22L445.47 171.87Z" fill="#fff" fill-opacity="0.8" stroke="#985050" stroke-width="1.1"/>
<path d="M462.69 172.08L465.04 174.43L462.69 176.78L460.34 174.43Z" fill="#fff" fill-opacity="0.8" stroke="#985050" stroke-width="1.1"/>
<path d="M477.56 173.78L479.91 176.13L477.56 178.48L475.21 176.13Z" fill="#fff" fill-opacity="0.8" stroke="#985050" stroke-width="1.1"/>
<path d="M492.43 173.50L494.78 175.85L492.43 178.20L490.08 175.85Z" fill="#fff" fill-opacity="0.8" stroke="#985050" stroke-width="1.1"/>
<path d="M507.30 175.49L509.65 177.84L507.30 180.19L504.95 177.84Z" fill="#fff" fill-opacity="0.8" stroke="#985050" stroke-width="1.1"/>
<path d="M522.17 176.34L524.52 178.69L522.17 181.04L519.82 178.69Z" fill="#fff" fill-opacity="0.8" stroke="#985050" stroke-width="1.1"/>
<path d="M537.04 176.34L539.39 178.69L537.04 181.04L534.69 178.69Z" fill="#fff" fill-opacity="0.8" stroke="#985050" stroke-width="1.1"/>
<path d="M551.91 175.77L554.26 178.12L551.91 180.47L549.56 178.12Z" fill="#fff" fill-opacity="0.8" stroke="#985050" stroke-width="1.1"/>
<path d="M566.78 177.76L569.13 180.11L566.78 182.46L564.43 180.11Z" fill="#fff" fill-opacity="0.8" stroke="#985050" stroke-width="1.1"/>
<path d="M581.65 178.33L584.00 180.68L581.65 183.03L579.30 180.68Z" fill="#fff" fill-opacity="0.8" stroke="#985050" stroke-width="1.1"/>
<path d="M596.52 177.48L598.87 179.83L596.52 182.18L594.17 179.83Z" fill="#fff" fill-opacity="0.8" stroke="#985050" stroke-width="1.1"/>
<polyline points="373.47,160.50 388.34,158.51 403.21,158.51 418.08,159.65 432.95,162.21 447.82,163.63 462.69,166.47 477.56,167.61 492.43,166.47 507.30,168.17 522.17,170.45 537.04,170.45 551.91,171.59 566.78,173.01 581.65,174.71 596.52,175.57" fill="none" stroke="#ff2a2a" stroke-width="1.1" stroke-dasharray="5.2 1.15 1 1.15"/>
<rect x="371.67" y="158.70" width="3.6" height="3.6" fill="#fff" fill-opacity="0.8" stroke="#ff2a2a" stroke-width="1.35"/>
<rect x="386.54" y="156.71" width="3.6" height="3.6" fill="#fff" fill-opacity="0.8" stroke="#ff2a2a" stroke-width="1.35"/>
<rect x="401.41" y="156.71" width="3.6" height="3.6" fill="#fff" fill-opacity="0.8" stroke="#ff2a2a" stroke-width="1.35"/>
<rect x="416.28" y="157.85" width="3.6" height="3.6" fill="#fff" fill-opacity="0.8" stroke="#ff2a2a" stroke-width="1.35"/>
<rect x="431.15" y="160.41" width="3.6" height="3.6" fill="#fff" fill-opacity="0.8" stroke="#ff2a2a" stroke-width="1.35"/>
<rect x="446.02" y="161.83" width="3.6" height="3.6" fill="#fff" fill-opacity="0.8" stroke="#ff2a2a" stroke-width="1.35"/>
<rect x="460.89" y="164.67" width="3.6" height="3.6" fill="#fff" fill-opacity="0.8" stroke="#ff2a2a" stroke-width="1.35"/>
<rect x="475.76" y="165.81" width="3.6" height="3.6" fill="#fff" fill-opacity="0.8" stroke="#ff2a2a" stroke-width="1.35"/>
<rect x="490.63" y="164.67" width="3.6" height="3.6" fill="#fff" fill-opacity="0.8" stroke="#ff2a2a" stroke-width="1.35"/>
<rect x="505.50" y="166.37" width="3.6" height="3.6" fill="#fff" fill-opacity="0.8" stroke="#ff2a2a" stroke-width="1.35"/>
<rect x="520.37" y="168.65" width="3.6" height="3.6" fill="#fff" fill-opacity="0.8" stroke="#ff2a2a" stroke-width="1.35"/>
<rect x="535.24" y="168.65" width="3.6" height="3.6" fill="#fff" fill-opacity="0.8" stroke="#ff2a2a" stroke-width="1.35"/>
<rect x="550.11" y="169.79" width="3.6" height="3.6" fill="#fff" fill-opacity="0.8" stroke="#ff2a2a" stroke-width="1.35"/>
<rect x="564.98" y="171.21" width="3.6" height="3.6" fill="#fff" fill-opacity="0.8" stroke="#ff2a2a" stroke-width="1.35"/>
<rect x="579.85" y="172.91" width="3.6" height="3.6" fill="#fff" fill-opacity="0.8" stroke="#ff2a2a" stroke-width="1.35"/>
<rect x="594.72" y="173.77" width="3.6" height="3.6" fill="#fff" fill-opacity="0.8" stroke="#ff2a2a" stroke-width="1.35"/>
<polyline points="373.47,160.50 388.34,159.08 403.21,158.23 418.08,153.68 432.95,149.13 447.82,146.29 462.69,143.16 477.56,142.31 492.43,143.16 507.30,142.02 522.17,141.46 537.04,142.02 551.91,142.31 566.78,141.17 581.65,142.02 596.52,143.44" fill="none" stroke="#3030ff" stroke-width="1.1" stroke-dasharray="2.2 1.8"/>
<path d="M373.47 158.56L375.41 161.89L371.53 161.89Z" fill="#3030ff" fill-opacity="0.35" stroke="#3030ff" stroke-width="1.0"/>
<path d="M388.34 157.14L390.28 160.47L386.40 160.47Z" fill="#3030ff" fill-opacity="0.35" stroke="#3030ff" stroke-width="1.0"/>
<path d="M403.21 156.28L405.15 159.61L401.27 159.61Z" fill="#3030ff" fill-opacity="0.35" stroke="#3030ff" stroke-width="1.0"/>
<path d="M418.08 151.74L420.02 155.07L416.14 155.07Z" fill="#3030ff" fill-opacity="0.35" stroke="#3030ff" stroke-width="1.0"/>
<path d="M432.95 147.19L434.89 150.52L431.01 150.52Z" fill="#3030ff" fill-opacity="0.35" stroke="#3030ff" stroke-width="1.0"/>
<path d="M447.82 144.34L449.76 147.67L445.88 147.67Z" fill="#3030ff" fill-opacity="0.35" stroke="#3030ff" stroke-width="1.0"/>
<path d="M462.69 141.22L464.63 144.55L460.75 144.55Z" fill="#3030ff" fill-opacity="0.35" stroke="#3030ff" stroke-width="1.0"/>
<path d="M477.56 140.37L479.50 143.70L475.62 143.70Z" fill="#3030ff" fill-opacity="0.35" stroke="#3030ff" stroke-width="1.0"/>
<path d="M492.43 141.22L494.37 144.55L490.49 144.55Z" fill="#3030ff" fill-opacity="0.35" stroke="#3030ff" stroke-width="1.0"/>
<path d="M507.30 140.08L509.24 143.41L505.36 143.41Z" fill="#3030ff" fill-opacity="0.35" stroke="#3030ff" stroke-width="1.0"/>
<path d="M522.17 139.51L524.11 142.84L520.23 142.84Z" fill="#3030ff" fill-opacity="0.35" stroke="#3030ff" stroke-width="1.0"/>
<path d="M537.04 140.08L538.98 143.41L535.10 143.41Z" fill="#3030ff" fill-opacity="0.35" stroke="#3030ff" stroke-width="1.0"/>
<path d="M551.91 140.37L553.85 143.70L549.97 143.70Z" fill="#3030ff" fill-opacity="0.35" stroke="#3030ff" stroke-width="1.0"/>
<path d="M566.78 139.23L568.72 142.56L564.84 142.56Z" fill="#3030ff" fill-opacity="0.35" stroke="#3030ff" stroke-width="1.0"/>
<path d="M581.65 140.08L583.59 143.41L579.71 143.41Z" fill="#3030ff" fill-opacity="0.35" stroke="#3030ff" stroke-width="1.0"/>
<path d="M596.52 141.50L598.46 144.83L594.58 144.83Z" fill="#3030ff" fill-opacity="0.35" stroke="#3030ff" stroke-width="1.0"/>
<polyline points="373.47,160.50 388.34,159.08 403.21,159.08 418.08,152.83 432.95,144.87 447.82,139.47 462.69,134.92 477.56,133.21 492.43,136.05 507.30,133.21 522.17,130.94 537.04,130.94 551.91,130.94 566.78,128.38 581.65,128.66 596.52,129.52" fill="none" stroke="#ff2f8c" stroke-width="1.1" stroke-dasharray="5.5 1.2 1 1.2"/>
<circle cx="373.47" cy="160.50" r="1.7" fill="#fff" fill-opacity="0.7" stroke="#ff2f8c" stroke-width="1.3"/>
<circle cx="388.34" cy="159.08" r="1.7" fill="#fff" fill-opacity="0.7" stroke="#ff2f8c" stroke-width="1.3"/>
<circle cx="403.21" cy="159.08" r="1.7" fill="#fff" fill-opacity="0.7" stroke="#ff2f8c" stroke-width="1.3"/>
<circle cx="418.08" cy="152.83" r="1.7" fill="#fff" fill-opacity="0.7" stroke="#ff2f8c" stroke-width="1.3"/>
<circle cx="432.95" cy="144.87" r="1.7" fill="#fff" fill-opacity="0.7" stroke="#ff2f8c" stroke-width="1.3"/>
<circle cx="447.82" cy="139.47" r="1.7" fill="#fff" fill-opacity="0.7" stroke="#ff2f8c" stroke-width="1.3"/>
<circle cx="462.69" cy="134.92" r="1.7" fill="#fff" fill-opacity="0.7" stroke="#ff2f8c" stroke-width="1.3"/>
<circle cx="477.56" cy="133.21" r="1.7" fill="#fff" fill-opacity="0.7" stroke="#ff2f8c" stroke-width="1.3"/>
<circle cx="492.43" cy="136.05" r="1.7" fill="#fff" fill-opacity="0.7" stroke="#ff2f8c" stroke-width="1.3"/>
<circle cx="507.30" cy="133.21" r="1.7" fill="#fff" fill-opacity="0.7" stroke="#ff2f8c" stroke-width="1.3"/>
<circle cx="522.17" cy="130.94" r="1.7" fill="#fff" fill-opacity="0.7" stroke="#ff2f8c" stroke-width="1.3"/>
<circle cx="537.04" cy="130.94" r="1.7" fill="#fff" fill-opacity="0.7" stroke="#ff2f8c" stroke-width="1.3"/>
<circle cx="551.91" cy="130.94" r="1.7" fill="#fff" fill-opacity="0.7" stroke="#ff2f8c" stroke-width="1.3"/>
<circle cx="566.78" cy="128.38" r="1.7" fill="#fff" fill-opacity="0.7" stroke="#ff2f8c" stroke-width="1.3"/>
<circle cx="581.65" cy="128.66" r="1.7" fill="#fff" fill-opacity="0.7" stroke="#ff2f8c" stroke-width="1.3"/>
<circle cx="596.52" cy="129.52" r="1.7" fill="#fff" fill-opacity="0.7" stroke="#ff2f8c" stroke-width="1.3"/>
<polyline points="373.47,160.50 388.34,163.63 403.21,168.74 418.08,152.54 432.95,129.23 447.82,114.17 462.69,102.51 477.56,99.10 492.43,113.03 507.30,103.08 522.17,95.12 537.04,99.67 551.91,96.26 566.78,82.33 581.65,80.06 596.52,78.35" fill="none" stroke="#46648c" stroke-width="1.1"/>
<path d="M373.47 158.15L375.82 160.50L373.47 162.85L371.12 160.50Z" fill="#46648c" fill-opacity="0.2" stroke="#46648c" stroke-width="1.1"/>
<path d="M388.34 161.28L390.69 163.63L388.34 165.98L385.99 163.63Z" fill="#46648c" fill-opacity="0.2" stroke="#46648c" stroke-width="1.1"/>
<path d="M403.21 166.39L405.56 168.74L403.21 171.09L400.86 168.74Z" fill="#46648c" fill-opacity="0.2" stroke="#46648c" stroke-width="1.1"/>
<path d="M418.08 150.19L420.43 152.54L418.08 154.89L415.73 152.54Z" fill="#46648c" fill-opacity="0.2" stroke="#46648c" stroke-width="1.1"/>
<path d="M432.95 126.88L435.30 129.23L432.95 131.58L430.60 129.23Z" fill="#46648c" fill-opacity="0.2" stroke="#46648c" stroke-width="1.1"/>
<path d="M447.82 111.82L450.17 114.17L447.82 116.52L445.47 114.17Z" fill="#46648c" fill-opacity="0.2" stroke="#46648c" stroke-width="1.1"/>
<path d="M462.69 100.16L465.04 102.51L462.69 104.86L460.34 102.51Z" fill="#46648c" fill-opacity="0.2" stroke="#46648c" stroke-width="1.1"/>
<path d="M477.56 96.75L479.91 99.10L477.56 101.45L475.21 99.10Z" fill="#46648c" fill-opacity="0.2" stroke="#46648c" stroke-width="1.1"/>
<path d="M492.43 110.68L494.78 113.03L492.43 115.38L490.08 113.03Z" fill="#46648c" fill-opacity="0.2" stroke="#46648c" stroke-width="1.1"/>
<path d="M507.30 100.73L509.65 103.08L507.30 105.43L504.95 103.08Z" fill="#46648c" fill-opacity="0.2" stroke="#46648c" stroke-width="1.1"/>
<path d="M522.17 92.77L524.52 95.12L522.17 97.47L519.82 95.12Z" fill="#46648c" fill-opacity="0.2" stroke="#46648c" stroke-width="1.1"/>
<path d="M537.04 97.32L539.39 99.67L537.04 102.02L534.69 99.67Z" fill="#46648c" fill-opacity="0.2" stroke="#46648c" stroke-width="1.1"/>
<path d="M551.91 93.91L554.26 96.26L551.91 98.61L549.56 96.26Z" fill="#46648c" fill-opacity="0.2" stroke="#46648c" stroke-width="1.1"/>
<path d="M566.78 79.98L569.13 82.33L566.78 84.68L564.43 82.33Z" fill="#46648c" fill-opacity="0.2" stroke="#46648c" stroke-width="1.1"/>
<path d="M581.65 77.71L584.00 80.06L581.65 82.41L579.30 80.06Z" fill="#46648c" fill-opacity="0.2" stroke="#46648c" stroke-width="1.1"/>
<path d="M596.52 76.00L598.87 78.35L596.52 80.70L594.17 78.35Z" fill="#46648c" fill-opacity="0.2" stroke="#46648c" stroke-width="1.1"/>
<polyline points="373.47,160.50 388.34,169.60 403.21,189.49 418.08,167.89 432.95,113.88 447.82,92.85 462.69,82.33 477.56,84.04 492.43,118.43 507.30,94.27 522.17,79.20 537.04,95.69 551.91,84.61 566.78,51.92 581.65,48.51 596.52,42.82" fill="none" stroke="#ff8c28" stroke-width="1.1"/>
<rect x="371.67" y="158.70" width="3.6" height="3.6" fill="#ff8c28" fill-opacity="0.25" stroke="#ff8c28" stroke-width="1.25"/>
<rect x="386.54" y="167.80" width="3.6" height="3.6" fill="#ff8c28" fill-opacity="0.25" stroke="#ff8c28" stroke-width="1.25"/>
<rect x="401.41" y="187.69" width="3.6" height="3.6" fill="#ff8c28" fill-opacity="0.25" stroke="#ff8c28" stroke-width="1.25"/>
<rect x="416.28" y="166.09" width="3.6" height="3.6" fill="#ff8c28" fill-opacity="0.25" stroke="#ff8c28" stroke-width="1.25"/>
<rect x="431.15" y="112.08" width="3.6" height="3.6" fill="#ff8c28" fill-opacity="0.25" stroke="#ff8c28" stroke-width="1.25"/>
<rect x="446.02" y="91.05" width="3.6" height="3.6" fill="#ff8c28" fill-opacity="0.25" stroke="#ff8c28" stroke-width="1.25"/>
<rect x="460.89" y="80.53" width="3.6" height="3.6" fill="#ff8c28" fill-opacity="0.25" stroke="#ff8c28" stroke-width="1.25"/>
<rect x="475.76" y="82.24" width="3.6" height="3.6" fill="#ff8c28" fill-opacity="0.25" stroke="#ff8c28" stroke-width="1.25"/>
<rect x="490.63" y="116.63" width="3.6" height="3.6" fill="#ff8c28" fill-opacity="0.25" stroke="#ff8c28" stroke-width="1.25"/>
<rect x="505.50" y="92.47" width="3.6" height="3.6" fill="#ff8c28" fill-opacity="0.25" stroke="#ff8c28" stroke-width="1.25"/>
<rect x="520.37" y="77.40" width="3.6" height="3.6" fill="#ff8c28" fill-opacity="0.25" stroke="#ff8c28" stroke-width="1.25"/>
<rect x="535.24" y="93.89" width="3.6" height="3.6" fill="#ff8c28" fill-opacity="0.25" stroke="#ff8c28" stroke-width="1.25"/>
<rect x="550.11" y="82.81" width="3.6" height="3.6" fill="#ff8c28" fill-opacity="0.25" stroke="#ff8c28" stroke-width="1.25"/>
<rect x="564.98" y="50.12" width="3.6" height="3.6" fill="#ff8c28" fill-opacity="0.25" stroke="#ff8c28" stroke-width="1.25"/>
<rect x="579.85" y="46.71" width="3.6" height="3.6" fill="#ff8c28" fill-opacity="0.25" stroke="#ff8c28" stroke-width="1.25"/>
<rect x="594.72" y="41.02" width="3.6" height="3.6" fill="#ff8c28" fill-opacity="0.25" stroke="#ff8c28" stroke-width="1.25"/>
</svg>
<div class="t" id="ta" style="left:133.5px;top:3px">(<span class="s">A</span>) <span style="letter-spacing:0.45px">Men</span></div>
<div class="t" id="tb" style="left:432.4px;top:3px">(<span class="s">B</span>) <span style="letter-spacing:0.75px">Women</span></div>
<div class="cl" style="top:255.3px">F<span class="sc">IGURE</span> 13.&nbsp;Changes in Total Income Shares Relative to 2001. <i>Note</i>: This figure shows the evo-</div>
<div class="cl" style="top:274.3px">lution of selected income shares of real annual total income (relative to 2001) in the combined</div>
<div class="cl" style="top:293.3px">IAB-TPP data (CS sample) by gender. The absolute shares for all groups can be found in Appendix</div>
<div class="cl" style="top:312.3px">Tables G.2, G.3, and G.4 for men, women, and the entire population. Shaded areas indicate re-</div>
<div class="cl last" style="top:331.3px">cessions.</div>

</body></html>
